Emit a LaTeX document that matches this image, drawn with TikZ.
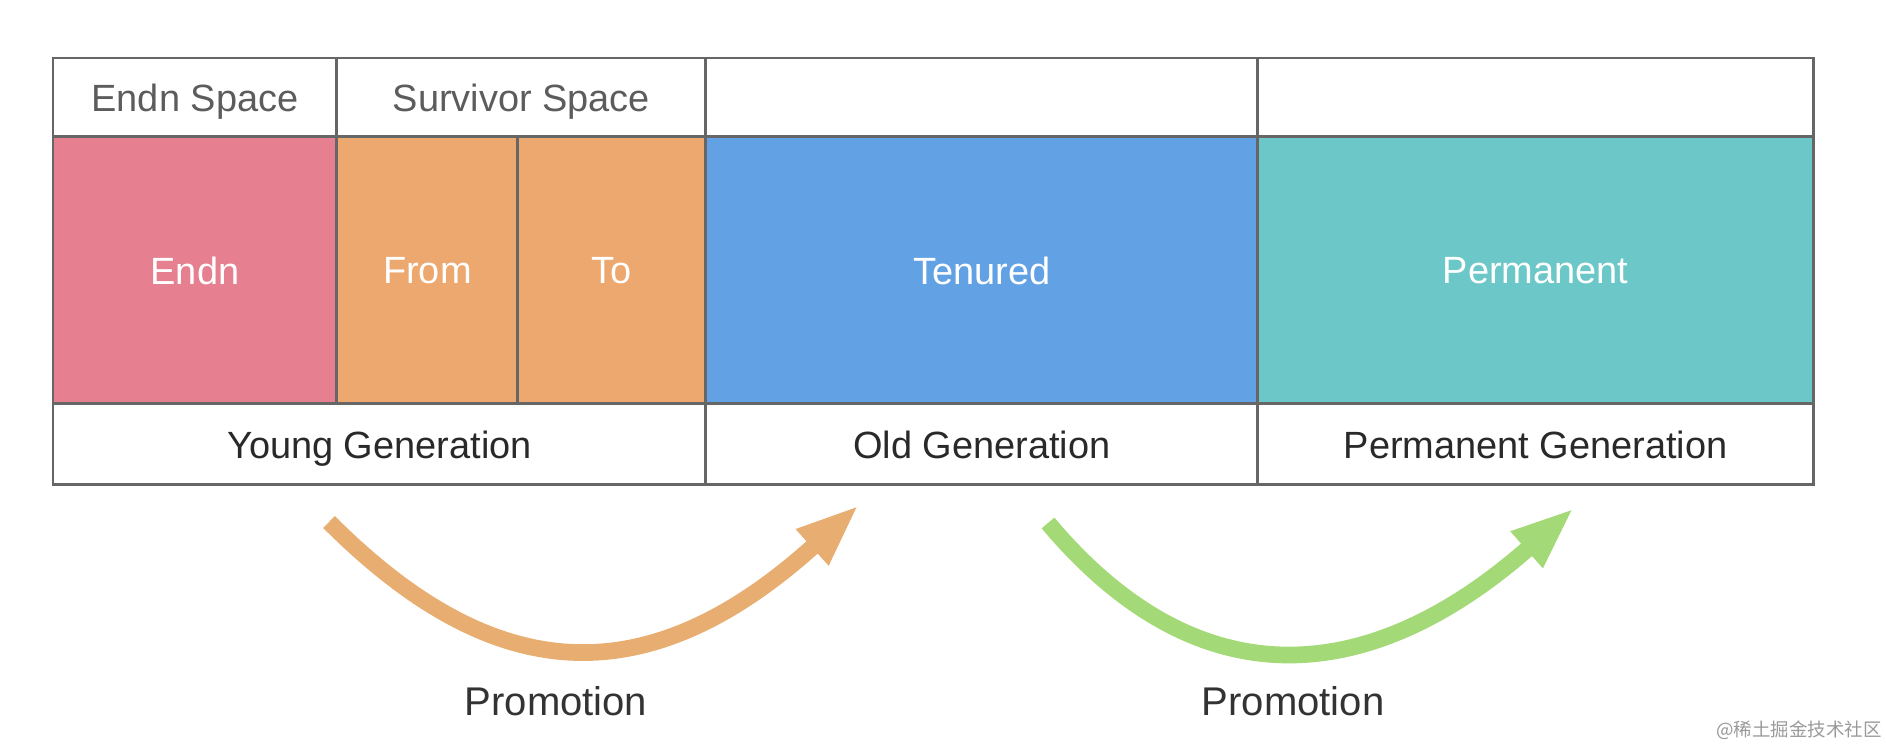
\documentclass[tikz,border=0pt]{standalone}
\usepackage{fontspec}
\setmainfont{Liberation Sans}
\newfontfamily\cjkfont{Noto Sans CJK SC}
\usetikzlibrary{positioning, arrows.meta}
\definecolor{endnpink}{rgb}{0.902, 0.498, 0.561}
\definecolor{survorange}{rgb}{0.925, 0.659, 0.431}
\definecolor{tenuredblue}{rgb}{0.384, 0.631, 0.894}
\definecolor{permteal}{rgb}{0.424, 0.780, 0.784}
\definecolor{promoorange}{rgb}{0.910, 0.678, 0.439}
\definecolor{promogreen}{rgb}{0.639, 0.851, 0.467}
\definecolor{gridgray}{rgb}{0.4, 0.4, 0.4}
\definecolor{headtext}{rgb}{0.36, 0.36, 0.36}
\definecolor{gentext}{rgb}{0.16, 0.16, 0.16}
\definecolor{promotext}{rgb}{0.2, 0.2, 0.2}
\definecolor{markgray}{rgb}{0.6, 0.6, 0.6}

\begin{document}
\begin{tikzpicture}[x=0.02cm, y=-0.02cm,
        cell/.style={draw=gridgray, line width=1.7pt, outer sep=0pt, inner sep=0pt, text depth=0pt,
            font=\fontsize{21.6}{26}\selectfont},
        headcell/.style={cell, minimum height=1.58cm, text=headtext},
        memcell/.style={cell, minimum height=5.34cm, text=white},
        gencell/.style={cell, minimum height=1.62cm, text=gentext},
        promo/.style={line width=9.5pt, -{Triangle[length=36pt, width=25pt]}},
        promolabel/.style={font=\fontsize{22.8}{27}\selectfont, text=promotext}]

        \useasboundingbox (0,0) rectangle (1886,746);

        % header row
        \node (endnhead) [headcell, minimum width=5.68cm, anchor=north west] at (53,58) {Endn Space};
        \node (survhead) [headcell, minimum width=7.38cm, right=0pt of endnhead] {Survivor Space};
        \node (oldhead)  [headcell, minimum width=11.04cm, right=0pt of survhead] {};
        \node (permhead) [headcell, minimum width=11.12cm, right=0pt of oldhead] {};

        % memory areas
        \node (endn)    [memcell, fill=endnpink, minimum width=5.68cm, below=0pt of endnhead] {Endn};
        \node (from)    [memcell, fill=survorange, minimum width=3.62cm, right=0pt of endn] {From};
        \node (to)      [memcell, fill=survorange, minimum width=3.76cm, right=0pt of from] {To};
        \node (tenured) [memcell, fill=tenuredblue, minimum width=11.04cm, right=0pt of to] {Tenured};
        \node (perm)    [memcell, fill=permteal, minimum width=11.12cm, right=0pt of tenured] {Permanent};

        % generations
        \node (younggen) [gencell, minimum width=13.06cm, below right=0pt of endn.south west] {Young Generation};
        \node (oldgen)   [gencell, minimum width=11.04cm, right=0pt of younggen] {Old Generation};
        \node (permgen)  [gencell, minimum width=11.12cm, right=0pt of oldgen] {Permanent Generation};

        % promotions
        \coordinate (youngpromostart) at (329,522);
        \coordinate (youngpromoend)   at (859,505);
        \coordinate (oldpromostart)   at (1048,523);
        \coordinate (oldpromoend)     at (1574,508);

        \draw [promo, color=promoorange] (youngpromostart) .. controls (487,680) and (640,703) .. (youngpromoend);
        \draw [promo, color=promogreen]  (oldpromostart)   .. controls (1201,705) and (1373,685) .. (oldpromoend);

        \node (youngpromo) [promolabel] at (556,701) {Promotion};
        \node (oldpromo)   [promolabel] at (1293,701) {Promotion};

        \node (watermark) [font=\cjkfont\fontsize{10.5}{12}\selectfont, text=markgray] at (1799,730) {@稀土掘金技术社区};
    \end{tikzpicture}
\end{document}
